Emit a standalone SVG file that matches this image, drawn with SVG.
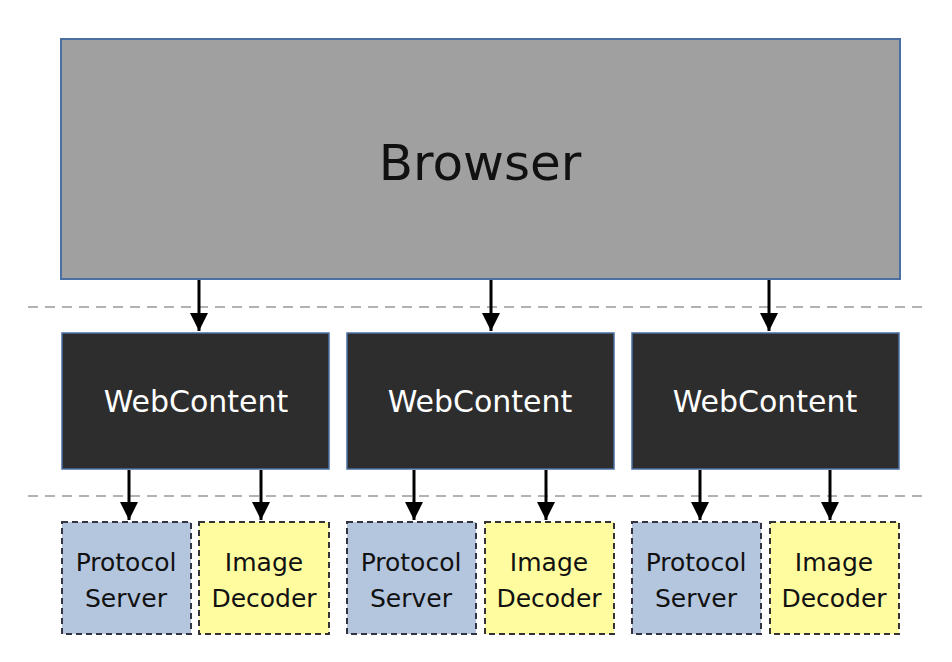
<svg xmlns="http://www.w3.org/2000/svg" width="952" height="662" viewBox="0 0 952 662">
<defs>
<marker id="ah" markerWidth="10" markerHeight="12" refX="9" refY="6" orient="auto" markerUnits="userSpaceOnUse"><path d="M0,0 L18,6 L0,12 Z" transform="scale(0.5,1)"/></marker>
<marker id="a" viewBox="0 0 10 10" markerWidth="18" markerHeight="18" refX="10" refY="5" orient="auto" markerUnits="userSpaceOnUse"><path d="M0,0 L10,5 L0,10 Z" fill="#000"/></marker>
<style>
text{font-family:"DejaVu Sans",Verdana,sans-serif;text-anchor:middle}
.wc rect{fill:#2d2d2d;stroke:#4a6fa0;stroke-width:1.5}
.wc text{fill:#fff;font-size:30px}
.ps rect{fill:#b4c6de;stroke:#333344;stroke-width:2;stroke-dasharray:6 4}
.id rect{fill:#fffca0;stroke:#333;stroke-width:2;stroke-dasharray:6 4}
.sm text{font-size:25px;fill:#111}
.c line{stroke:#000;stroke-width:3;marker-end:url(#a)}
.sep{stroke:#999;stroke-width:1.5;stroke-dasharray:10 7}
</style>
</defs>
<rect width="952" height="662" fill="#fff"/>
<line class="sep" x1="28" y1="307" x2="925" y2="307"/>
<line class="sep" x1="28" y1="496" x2="925" y2="496"/>
<g id="browser"><rect x="61" y="39" width="839" height="240" fill="#a0a0a0" stroke="#4a6fa0" stroke-width="2"/><text x="480" y="180" font-size="50" fill="#111">Browser</text></g>
<g id="wc1" class="wc"><rect x="62" y="333" width="267" height="136"/><text x="196" y="412">WebContent</text></g>
<g id="wc2" class="wc"><rect x="347" y="333" width="267" height="136"/><text x="480" y="412">WebContent</text></g>
<g id="wc3" class="wc"><rect x="632" y="333" width="267" height="136"/><text x="765" y="412">WebContent</text></g>
<g id="ps1" class="ps sm"><rect x="62" y="522" width="129" height="112"/><text x="126" y="571">Protocol</text><text x="126" y="607">Server</text></g>
<g id="id1" class="id sm"><rect x="199" y="522" width="130" height="112"/><text x="264" y="571">Image</text><text x="264" y="607">Decoder</text></g>
<g id="ps2" class="ps sm"><rect x="347" y="522" width="129" height="112"/><text x="411" y="571">Protocol</text><text x="411" y="607">Server</text></g>
<g id="id2" class="id sm"><rect x="485" y="522" width="129" height="112"/><text x="549" y="571">Image</text><text x="549" y="607">Decoder</text></g>
<g id="ps3" class="ps sm"><rect x="632" y="522" width="129" height="112"/><text x="696" y="571">Protocol</text><text x="696" y="607">Server</text></g>
<g id="id3" class="id sm"><rect x="770" y="522" width="129" height="112"/><text x="834" y="571">Image</text><text x="834" y="607">Decoder</text></g>
<g id="connectors" class="c">
<line x1="199" y1="280" x2="199" y2="331"/>
<line x1="491" y1="280" x2="491" y2="331"/>
<line x1="769" y1="280" x2="769" y2="331"/>
<line x1="129" y1="470" x2="129" y2="520"/>
<line x1="261" y1="470" x2="261" y2="520"/>
<line x1="414" y1="470" x2="414" y2="520"/>
<line x1="546" y1="470" x2="546" y2="520"/>
<line x1="700" y1="470" x2="700" y2="520"/>
<line x1="830" y1="470" x2="830" y2="520"/>
</g>
</svg>
